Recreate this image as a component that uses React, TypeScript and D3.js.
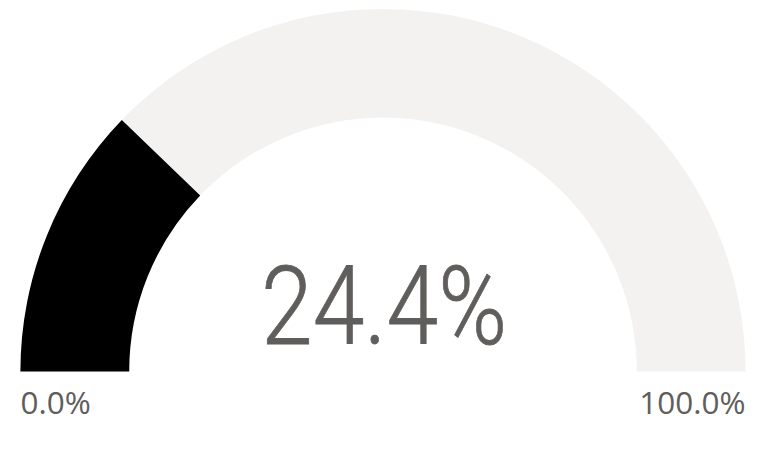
import { useRef, useEffect } from "react";
import * as d3 from "d3";

const gaugeMin: number[] = [0];
const gaugeMax: number[] = [100];
const gaugeValue: number[] = [24.4];
const axisLabels: string[] = ["0.0%", "100.0%"];
const valueLabel: string[] = ["24.4%"];

const width = 767;
const height = 458;

export default function App() {
    const svgRef = useRef<SVGSVGElement | null>(null);

    useEffect(() => {
        if (!svgRef.current) return;
        document.body.style.margin = "0";

        const cx = 383;
        const cy = 371.5;
        const outerR = 362.6;
        const innerR = 253.8;

        const svg = d3.select(svgRef.current);
        svg.selectAll("*").remove();

        // value -> angle, left end of the half circle to the right end
        const angle = d3.scaleLinear()
            .domain([gaugeMin[0], gaugeMax[0]])
            .range([-Math.PI / 2, Math.PI / 2]);

        const arc: any = d3.arc()
            .innerRadius(innerR)
            .outerRadius(outerR);

        const g = svg.append("g")
            .attr("transform", `translate(${cx},${cy})`);

        // background track
        g.append("path")
            .attr("d", arc({ startAngle: angle(gaugeMin[0]), endAngle: angle(gaugeMax[0]) }))
            .attr("fill", "#F3F2F1");

        // filled part
        g.append("path")
            .attr("d", arc({ startAngle: angle(gaugeMin[0]), endAngle: angle(gaugeValue[0]) }))
            .attr("fill", "#000000");

        // big value in the middle
        svg.append("text")
            .attr("x", cx + 1)
            .attr("y", 343.5)
            .attr("text-anchor", "middle")
            .attr("font-family", "Roboto, sans-serif")
            .attr("font-weight", 300)
            .attr("font-size", 110)
            .attr("textLength", 246)
            .attr("lengthAdjust", "spacingAndGlyphs")
            .attr("stroke", "#605E5C")
            .attr("stroke-width", 0.8)
            .attr("fill", "#605E5C")
            .text(valueLabel[0]);

        // min / max labels
        svg.append("text")
            .attr("x", cx - outerR)
            .attr("y", 414)
            .attr("text-anchor", "start")
            .attr("font-family", "'Open Sans', sans-serif")
            .attr("font-size", 31.5)
            .attr("fill", "#605E5C")
            .text(axisLabels[0]);

        svg.append("text")
            .attr("x", cx + outerR)
            .attr("y", 414)
            .attr("text-anchor", "end")
            .attr("font-family", "'Open Sans', sans-serif")
            .attr("font-size", 31.5)
            .attr("fill", "#605E5C")
            .text(axisLabels[1]);
    }, []);

    return (
        <svg ref={svgRef} width={width} height={height} style={{ display: "block", background: "#fff" }}></svg>
    );
}
